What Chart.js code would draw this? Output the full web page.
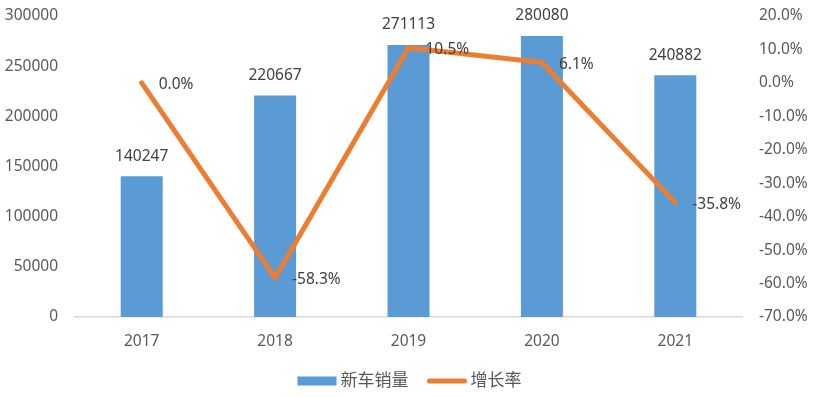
<!DOCTYPE html>
<html>
<head>
<meta charset="utf-8">
<script src="https://cdn.jsdelivr.net/npm/chart.js@4/dist/chart.umd.min.js"></script>
<style>
html,body{margin:0;padding:0;background:#fff;}
#wrap{width:819px;height:397px;position:relative;}
</style>
</head>
<body>
<div id="wrap"><canvas id="c" width="819" height="397"></canvas></div>
<script>
const categories = ['2017', '2018', '2019', '2020', '2021'];
const salesValues = [140247, 220667, 271113, 280080, 240882];
const growthValues = [0.0, -58.3, 10.5, 6.1, -35.8];
const salesLabel = '新车销量';
const growthLabel = '增长率';
const leftTicks = [0, 50000, 100000, 150000, 200000, 250000, 300000];
const rightTicks = [-70, -60, -50, -40, -30, -20, -10, 0, 10, 20];

const BAR_COLOR = '#5B9BD5';
const LINE_COLOR = '#ED7D31';
const TICK_COLOR = '#595959';
const LABEL_COLOR = '#404040';
const FONT = "'Noto Sans', 'Noto Sans CJK SC', sans-serif";

const labelPlugin = {
  id: 'valueLabels',
  afterDatasetsDraw(chart) {
    const ctx = chart.ctx;
    ctx.save();
    ctx.font = '15.5px ' + FONT;
    ctx.fillStyle = LABEL_COLOR;
    const barMeta = chart.getDatasetMeta(1);
    barMeta.data.forEach((el, i) => {
      ctx.textAlign = 'center';
      ctx.textBaseline = 'middle';
      ctx.fillText(String(salesValues[i]), el.x, el.y - 20);
    });
    const lineMeta = chart.getDatasetMeta(0);
    lineMeta.data.forEach((el, i) => {
      ctx.textAlign = 'left';
      ctx.textBaseline = 'middle';
      ctx.fillText(growthValues[i].toFixed(1) + '%', el.x + 17, el.y + 2);
    });
    ctx.restore();
  }
};

const legendPlugin = {
  id: 'customLegend',
  afterDraw(chart) {
    const ctx = chart.ctx;
    ctx.save();
    ctx.font = '17px ' + FONT;
    ctx.textBaseline = 'middle';
    ctx.textAlign = 'left';
    const cy = 381;
    const boxW = 39, gapText = 4, gapItem = 19;
    const w1 = ctx.measureText(salesLabel).width;
    const w2 = ctx.measureText(growthLabel).width;
    const total = boxW + gapText + w1 + gapItem + boxW + gapText + w2;
    let x = (chart.width - total) / 2;
    ctx.fillStyle = BAR_COLOR;
    ctx.fillRect(x, cy - 4.5, boxW, 9);
    x += boxW + gapText;
    ctx.fillStyle = TICK_COLOR;
    ctx.fillText(salesLabel, x, cy);
    x += w1 + gapItem;
    ctx.strokeStyle = LINE_COLOR;
    ctx.lineWidth = 5;
    ctx.lineCap = 'round';
    ctx.beginPath();
    ctx.moveTo(x + 2, cy);
    ctx.lineTo(x + boxW - 2, cy);
    ctx.stroke();
    x += boxW + gapText;
    ctx.fillStyle = TICK_COLOR;
    ctx.fillText(growthLabel, x, cy);
    ctx.restore();
  }
};

new Chart(document.getElementById('c'), {
  data: {
    labels: categories,
    datasets: [
      {
        type: 'line',
        label: growthLabel,
        data: growthValues,
        yAxisID: 'y1',
        borderColor: LINE_COLOR,
        backgroundColor: LINE_COLOR,
        borderWidth: 5,
        pointRadius: 0,
        pointHoverRadius: 0,
        tension: 0,
        borderJoinStyle: 'round',
        borderCapStyle: 'round',
        order: 0
      },
      {
        type: 'bar',
        label: salesLabel,
        data: salesValues,
        yAxisID: 'y',
        backgroundColor: BAR_COLOR,
        borderWidth: 0,
        barPercentage: 0.315,
        categoryPercentage: 1.0,
        order: 1
      }
    ]
  },
  options: {
    responsive: false,
    animation: false,
    events: [],
    layout: { padding: { top: 16, bottom: 0, left: 0, right: 0 } },
    plugins: {
      legend: { display: false },
      tooltip: { enabled: false }
    },
    scales: {
      x: {
        offset: true,
        grid: { display: true, color: 'rgba(0,0,0,0)', drawTicks: false },
        border: { display: true, color: '#D9D9D9', width: 1.5 },
        ticks: { color: TICK_COLOR, font: { family: FONT, size: 15.5 }, padding: 15 },
        afterFit(scale) { scale.height = 80; scale.paddingLeft = 0; scale.paddingRight = 0; }
      },
      y: {
        position: 'left',
        min: 0,
        max: 300000,
        grid: { display: false, drawTicks: false },
        border: { display: false },
        afterBuildTicks(scale) { scale.ticks = leftTicks.map(v => ({ value: v })); },
        ticks: { color: TICK_COLOR, font: { family: FONT, size: 15.5 }, padding: 17,
          callback: (v) => String(v) },
        afterFit(scale) { scale.width = 75; scale.paddingTop = 0; scale.paddingBottom = 0; }
      },
      y1: {
        position: 'right',
        min: -70,
        max: 20,
        grid: { display: false, drawTicks: false },
        border: { display: false },
        afterBuildTicks(scale) { scale.ticks = rightTicks.map(v => ({ value: v })); },
        ticks: { color: TICK_COLOR, font: { family: FONT, size: 15.5 }, padding: 17,
          callback: (v) => Number(v).toFixed(1) + '%' },
        afterFit(scale) { scale.width = 77; scale.paddingTop = 0; scale.paddingBottom = 0; }
      }
    }
  },
  plugins: [labelPlugin, legendPlugin]
});
</script>
</body>
</html>
